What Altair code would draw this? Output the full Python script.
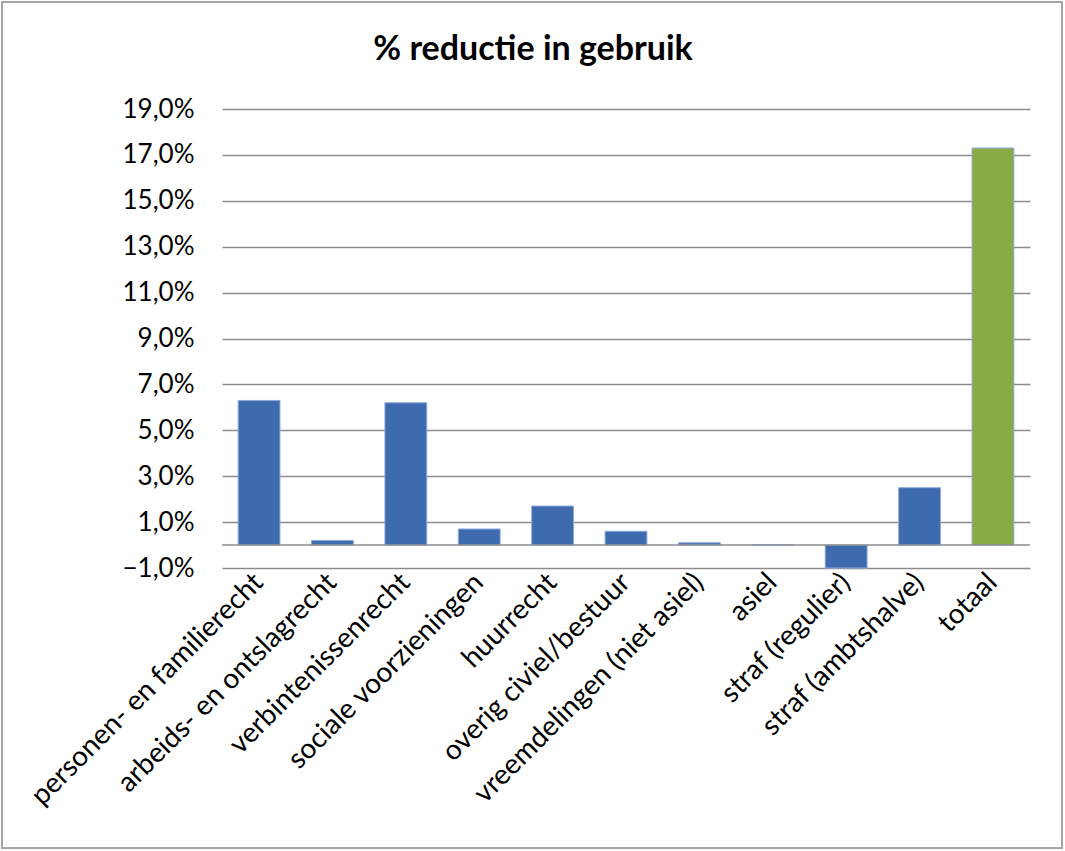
import altair as alt
import pandas as pd

categories = [
    "personen- en familierecht",
    "arbeids- en ontslagrecht",
    "verbintenissenrecht",
    "sociale voorzieningen",
    "huurrecht",
    "overig civiel/bestuur",
    "vreemdelingen (niet asiel)",
    "asiel",
    "straf (regulier)",
    "straf (ambtshalve)",
    "totaal",
]
values = [0.063, 0.002, 0.062, 0.007, 0.017, 0.006, 0.001, 0.0, -0.010, 0.025, 0.173]
y_ticks = [-0.01, 0.01, 0.03, 0.05, 0.07, 0.09, 0.11, 0.13, 0.15, 0.17, 0.19]

df = pd.DataFrame({"categorie": categories, "waarde": values})
zero = pd.DataFrame({"y": [0.0]})

FONT = "Lato"
W, H = 808, 459
PL, PT = 222, 109

x_enc = alt.X(
    "categorie:N",
    sort=categories,
    scale=alt.Scale(paddingInner=0.43, paddingOuter=0.22),
    axis=alt.Axis(
        title=None,
        labelAngle=-45,
        labelAlign="right",
        labelBaseline="middle",
        labelFont=FONT,
        labelFontSize=28,
        labelColor="#000000",
        labelPadding=10,
        ticks=False,
        domain=False,
        labelLimit=500,
    ),
)

bars = alt.Chart(df).mark_bar(stroke="#8faadc", strokeWidth=1).encode(
    x=x_enc,
    y=alt.Y(
        "waarde:Q",
        scale=alt.Scale(domain=[-0.01, 0.19], nice=False, zero=False),
        axis=alt.Axis(
            title=None,
            values=y_ticks,
            labelExpr="replace(format(datum.value, '.1%'), '.', ',')",
            labelFont=FONT,
            labelFontSize=26,
            labelColor="#000000",
            labelPadding=28,
            ticks=False,
            domain=False,
            grid=True,
            gridColor="#8c8c8c",
            gridWidth=1.5,
        ),
    ),
    color=alt.condition(
        alt.datum.categorie == "totaal", alt.value("#89ab46"), alt.value("#3e6aae")
    ),
)

zero_rule = alt.Chart(zero).mark_rule(color="#8c8c8c", strokeWidth=1.5).encode(
    y="y:Q", x=alt.value(0), x2=alt.value(W)
)

frame = alt.Chart(zero).mark_rect(
    fill=None, stroke="#a6a6a6", strokeWidth=2
).encode(
    x=alt.value(2 - PL), x2=alt.value(1062 - PL),
    y=alt.value(2 - PT), y2=alt.value(848 - PT),
)

chart = alt.layer(frame, bars, zero_rule).properties(
    width=W,
    height=H,
    padding={"left": PL, "top": PT, "right": 1065 - PL - W, "bottom": 851 - PT - H},
    autosize=alt.AutoSizeParams(type="none"),
    background="#ffffff",
    title=alt.TitleParams(
        "% reductie in gebruik",
        font=FONT,
        fontSize=34,
        fontWeight="bold",
        color="#000000",
        anchor="middle",
        frame="group",
        dx=-93,
        offset=-66,
    ),
).configure_view(stroke=None)

chart.save("out.html", embed_options={"renderer": "svg", "actions": False})
